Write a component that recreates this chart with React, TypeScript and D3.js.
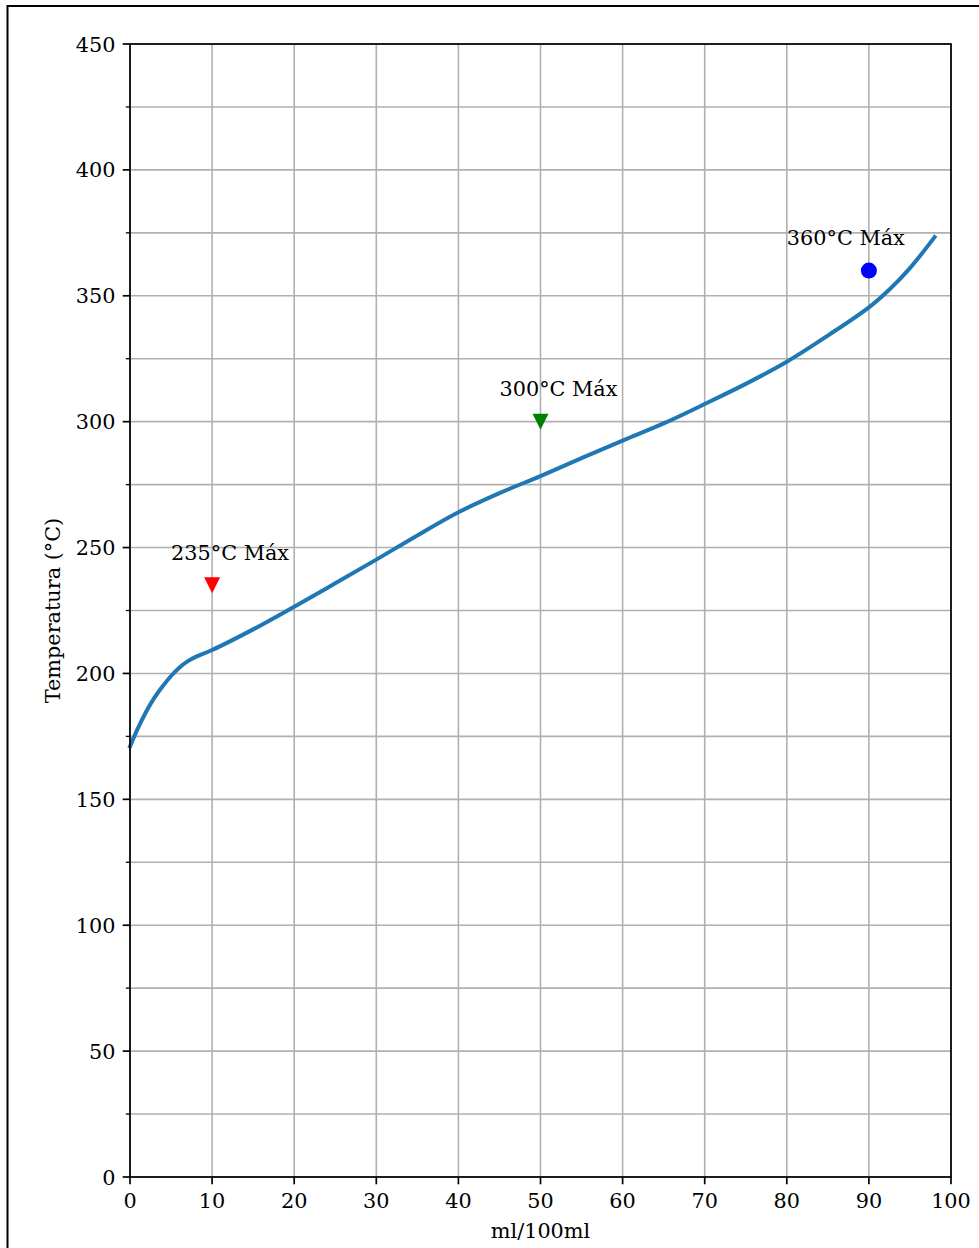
import { useEffect, useRef } from 'react';
import * as d3 from 'd3';

// curve: ml/100ml vs temperature
const volume = [0, 1, 2, 3, 4, 5, 6, 7, 8, 10, 15, 20, 25, 30, 35, 40, 45, 50, 55, 60, 65, 70, 75, 80, 85, 90, 92.5, 95, 98];
const temperature = [
  171, 178.5, 185, 190.5, 195, 199, 202.3, 204.8, 206.6, 209.3, 217.5, 226.5, 235.8, 245.2, 254.8, 264, 271.6,
  278.4, 285.5, 292.5, 299.3, 307, 315, 323.8, 334.2, 345.4, 352.5, 361, 373.3,
];

// limit markers
const limitVolume = [10, 50, 90];
const limitTemp = [235, 300, 360];
const limitLabels = ['235°C Máx', '300°C Máx', '360°C Máx'];
const labelVolume = [5, 45, 80];
const limitColors = ['red', 'green', 'blue'];
const limitShapes = ['v', 'v', 'o'];

const xTicks = [0, 10, 20, 30, 40, 50, 60, 70, 80, 90, 100];
const yTicks = [0, 50, 100, 150, 200, 250, 300, 350, 400, 450];
const yMinorTicks = [25, 75, 125, 175, 225, 275, 325, 375, 425];

const W = 979;
const H = 1248;
const FONT = '"DejaVu Serif", serif';

export default function App() {
  const svgRef = useRef<SVGSVGElement>(null);

  useEffect(() => {
    if (!svgRef.current) {
      return;
    }
    const svg = d3.select(svgRef.current);
    svg.selectAll('*').remove();

    const left = 130;
    const right = 951;
    const top = 44;
    const bottom = 1177;

    const x = d3.scaleLinear().domain([0, 100]).range([left, right]);
    const y = d3.scaleLinear().domain([0, 450]).range([bottom, top]);

    // outer frame
    svg
      .append('rect')
      .attr('x', 7.5)
      .attr('y', 6)
      .attr('width', 1100)
      .attr('height', 1400)
      .attr('fill', 'white')
      .attr('stroke', 'black')
      .attr('stroke-width', 2);

    const grid = svg.append('g').attr('stroke', '#b0b0b0').attr('stroke-width', 1.6);
    xTicks.forEach((t) => {
      grid.append('line').attr('x1', x(t)).attr('x2', x(t)).attr('y1', top).attr('y2', bottom);
    });
    [...yTicks, ...yMinorTicks].forEach((t) => {
      grid.append('line').attr('x1', left).attr('x2', right).attr('y1', y(t)).attr('y2', y(t));
    });

    const line = d3
      .line<number>()
      .x((_d, i) => x(volume[i]))
      .y((d) => y(d))
      .curve(d3.curveCatmullRom.alpha(0.5));

    svg
      .append('path')
      .attr('d', line(temperature))
      .attr('fill', 'none')
      .attr('stroke', '#1f77b4')
      .attr('stroke-width', 4)
      .attr('stroke-linecap', 'square');

    limitVolume.forEach((v, i) => {
      const cx = x(v);
      const cy = y(limitTemp[i]);
      if (limitShapes[i] === 'o') {
        svg.append('circle').attr('cx', cx).attr('cy', cy).attr('r', 8).attr('fill', limitColors[i]);
      } else {
        svg
          .append('path')
          .attr('d', `M${cx - 8},${cy - 8}L${cx + 8},${cy - 8}L${cx},${cy + 8}Z`)
          .attr('fill', limitColors[i]);
      }
      svg
        .append('text')
        .attr('x', x(labelVolume[i]))
        .attr('y', y(limitTemp[i] + 10))
        .attr('font-family', FONT)
        .attr('font-size', 20.8)
        .attr('fill', 'black')
        .text(limitLabels[i]);
    });

    // spines
    svg
      .append('rect')
      .attr('x', left)
      .attr('y', top)
      .attr('width', right - left)
      .attr('height', bottom - top)
      .attr('fill', 'none')
      .attr('stroke', 'black')
      .attr('stroke-width', 1.7);

    const axes = svg.append('g').attr('font-family', FONT).attr('font-size', 20.8).attr('fill', 'black');

    xTicks.forEach((t) => {
      axes
        .append('line')
        .attr('x1', x(t))
        .attr('x2', x(t))
        .attr('y1', bottom)
        .attr('y2', bottom + 7.3)
        .attr('stroke', 'black')
        .attr('stroke-width', 1.7);
      axes
        .append('text')
        .attr('x', x(t))
        .attr('y', bottom + 31)
        .attr('text-anchor', 'middle')
        .text(t);
    });

    yTicks.forEach((t) => {
      axes
        .append('line')
        .attr('x1', left - 7.3)
        .attr('x2', left)
        .attr('y1', y(t))
        .attr('y2', y(t))
        .attr('stroke', 'black')
        .attr('stroke-width', 1.7);
      axes
        .append('text')
        .attr('x', left - 14.6)
        .attr('y', y(t) + 7.5)
        .attr('text-anchor', 'end')
        .text(t);
    });

    yMinorTicks.forEach((t) => {
      axes
        .append('line')
        .attr('x1', left - 4.2)
        .attr('x2', left)
        .attr('y1', y(t))
        .attr('y2', y(t))
        .attr('stroke', 'black')
        .attr('stroke-width', 1.3);
    });

    axes
      .append('text')
      .attr('x', (left + right) / 2)
      .attr('y', 1238)
      .attr('text-anchor', 'middle')
      .text('ml/100ml');

    axes
      .append('text')
      .attr('transform', `translate(60,${(top + bottom) / 2}) rotate(-90)`)
      .attr('text-anchor', 'middle')
      .text('Temperatura (°C)');
  }, []);

  return (
    <svg
      ref={svgRef}
      width={W}
      height={H}
      style={{ position: 'absolute', left: 0, top: 0, display: 'block', background: 'white' }}
    />
  );
}
